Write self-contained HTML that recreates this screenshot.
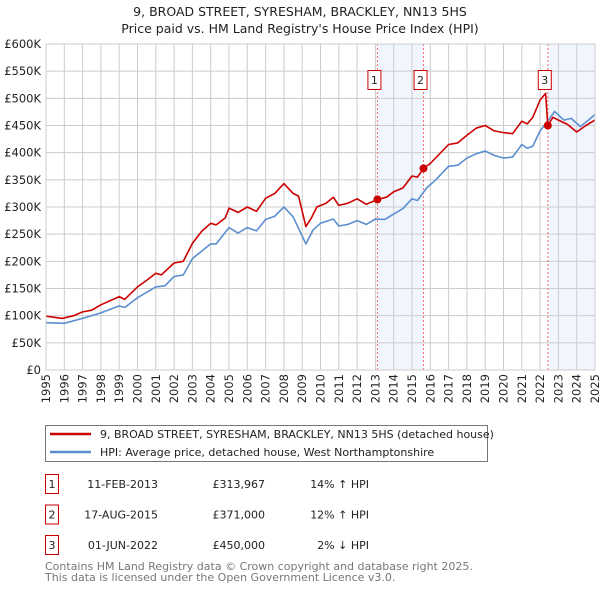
<!DOCTYPE html>
<html><head><meta charset="utf-8">
<style>
body{margin:0;background:#fff;font-family:"DejaVu Sans","Liberation Sans",sans-serif;}
svg text{font-family:"DejaVu Sans","Liberation Sans",sans-serif;}
</style></head>
<body>
<svg width="600" height="590" xmlns="http://www.w3.org/2000/svg">
<text x="300" y="16" text-anchor="middle" font-size="12.5" fill="#222">9, BROAD STREET, SYRESHAM, BRACKLEY, NN13 5HS</text>
<text x="300" y="33" text-anchor="middle" font-size="12.5" fill="#222">Price paid vs. HM Land Registry's House Price Index (HPI)</text>
<g id="plot"></g>
<g>
<rect x="45.5" y="425.5" width="442" height="36" fill="#fff" stroke="#777"/>
<line x1="50" y1="434" x2="91" y2="434" stroke="#cc0000" stroke-width="2.5"/>
<text x="100" y="438" font-size="11" fill="#222">9, BROAD STREET, SYRESHAM, BRACKLEY, NN13 5HS (detached house)</text>
<line x1="50" y1="452" x2="91" y2="452" stroke="#5b8fd0" stroke-width="2.5"/>
<text x="100" y="456" font-size="11" fill="#222">HPI: Average price, detached house, West Northamptonshire</text>
</g>
<g id="table" font-size="11" fill="#222"></g>
<text x="45" y="570" font-size="11" fill="#777">Contains HM Land Registry data © Crown copyright and database right 2025.</text>
<text x="45" y="581" font-size="11" fill="#777">This data is licensed under the Open Government Licence v3.0.</text>
</svg>
<script>
const yTicks=[0,50000,100000,150000,200000,250000,300000,350000,400000,450000,500000,550000,600000];
const yTickLabels=["£0","£50K","£100K","£150K","£200K","£250K","£300K","£350K","£400K","£450K","£500K","£550K","£600K"];
const xYears=[1995,1996,1997,1998,1999,2000,2001,2002,2003,2004,2005,2006,2007,2008,2009,2010,2011,2012,2013,2014,2015,2016,2017,2018,2019,2020,2021,2022,2023,2024,2025];
const redT=[1995,1995.9,1996.5,1997,1997.5,1998,1999,1999.3,2000,2000.5,2001,2001.3,2002,2002.5,2003,2003.5,2004,2004.3,2004.8,2005,2005.5,2006,2006.5,2007,2007.5,2008,2008.5,2008.8,2009.2,2009.5,2009.8,2010.3,2010.7,2011,2011.5,2012,2012.5,2013.11,2013.6,2014,2014.5,2015,2015.3,2015.63,2016,2017,2017.5,2018,2018.5,2019,2019.5,2020,2020.5,2021,2021.3,2021.6,2022,2022.3,2022.42,2022.7,2023,2023.5,2024,2024.5,2025];
const redV=[99000,95000,100000,107000,110000,120000,135000,130000,153000,165000,178000,175000,197000,200000,233000,255000,270000,267000,280000,298000,290000,300000,292000,316000,325000,343000,325000,320000,264000,280000,300000,307000,318000,303000,307000,315000,305000,313967,318000,328000,335000,357000,355000,371000,380000,415000,418000,432000,445000,450000,440000,437000,435000,458000,453000,465000,497000,509000,450000,465000,460000,452000,438000,450000,460000];
const blueT=[1995,1996,1997,1998,1999,1999.3,2000,2001,2001.5,2002,2002.5,2003,2004,2004.3,2005,2005.5,2006,2006.5,2007,2007.5,2008,2008.5,2009.2,2009.6,2010,2010.7,2011,2011.5,2012,2012.5,2013,2013.5,2014,2014.5,2015,2015.3,2015.8,2016.3,2017,2017.5,2018,2018.5,2019,2019.5,2020,2020.5,2021,2021.3,2021.6,2022,2022.5,2022.8,2023.3,2023.7,2024.2,2025];
const blueV=[87000,86000,95000,105000,118000,115000,133000,153000,155000,172000,175000,205000,232000,232000,262000,252000,262000,256000,277000,283000,300000,282000,232000,258000,270000,278000,265000,268000,275000,268000,278000,277000,287000,297000,315000,312000,335000,350000,375000,377000,390000,398000,403000,395000,390000,392000,415000,408000,412000,440000,462000,476000,460000,463000,448000,470000];
const saleLabels=["1","2","3"];
const saleT=[2013.11,2015.63,2022.42];
const saleV=[313967,371000,450000];
const saleDates=["11-FEB-2013","17-AUG-2015","01-JUN-2022"];
const salePrices=["£313,967","£371,000","£450,000"];
const saleHpi=["14% ↑ HPI","12% ↑ HPI","2% ↓ HPI"];

const NS="http://www.w3.org/2000/svg";
const L=46,R=595,T=44,B=370;
const x=t=>L+(t-1995)/30*(R-L);
const y=v=>B-v/600000*(B-T);
const plot=document.getElementById('plot');
function mk(tag,attrs,parent){const e=document.createElementNS(NS,tag);for(const k in attrs)e.setAttribute(k,attrs[k]);(parent||plot).appendChild(e);return e;}
const sh1=mk('rect',{x:x(saleT[0]),y:T,width:x(saleT[1])-x(saleT[0]),height:B-T,fill:'#eef3fc',opacity:0.8});


const sh2=mk('rect',{x:x(saleT[2]),y:T,width:R-x(saleT[2]),height:B-T,fill:'#eef3fc',opacity:0.8});


yTicks.forEach((v,i)=>{
 const g=mk('line',{x1:L,x2:R,y1:y(v),y2:y(v),stroke:'#ccc','stroke-width':1});
 
 
 const t=mk('text',{x:L-5,y:y(v)+4,'text-anchor':'end','font-size':11.5,fill:'#222'});
 t.textContent=yTickLabels[i];
 
 
});
xYears.forEach(yr=>{
 const g=mk('line',{x1:x(yr),x2:x(yr),y1:T,y2:B,stroke:'#ccc','stroke-width':1});
 
 
 const t=mk('text',{x:0,y:0,'text-anchor':'end','font-size':11.5,fill:'#222',transform:`translate(${x(yr)+4},374) rotate(-90)`});
 t.textContent=yr;
 
 
});
saleT.forEach((t,i)=>{
 const l=mk('line',{x1:x(t),x2:x(t),y1:T,y2:B,stroke:'#f07070','stroke-width':1,'stroke-dasharray':'2,2'});
 
 
});
function path(ts,vs,color,name){
 const d=ts.map((t,i)=>(i?'L':'M')+x(t).toFixed(1)+','+y(vs[i]).toFixed(1)).join('');
 const p=mk('path',{d:d,fill:'none',stroke:color,'stroke-width':1.6,'stroke-linejoin':'round'});
 
 
}
path(blueT,blueV,'#5b8fd0','hpi-line');
path(redT,redV,'#cc0000','property-price-line');
saleT.forEach((t,i)=>{
 const c=mk('circle',{cx:x(t),cy:y(saleV[i]),r:4,fill:'#cc0000'});
 
 
 const bx=mk('rect',{x:x(t)-9.5,y:70.5,width:13,height:19,fill:'#fff',stroke:'#cc0000','stroke-width':1});
 
 
 const tx=mk('text',{x:x(t)-3,y:84,'text-anchor':'middle','font-size':11,fill:'#222'});
 tx.textContent=saleLabels[i];
 
 
});
const border=mk('rect',{x:L,y:T,width:R-L,height:B-T,fill:'none',stroke:'#ccc'});


const tb=document.getElementById('table');
saleLabels.forEach((s,i)=>{
 const yy=487+i*30.5;
 const bx=mk('rect',{x:45.5,y:yy-12.5,width:13,height:19,fill:'#fff',stroke:'#cc0000'},tb);
 
 
 const cols=[[52,s,'middle','table-row-number'],[158,saleDates[i],'end','table-row-date'],[265,salePrices[i],'end','table-row-price'],[369,saleHpi[i],'end','table-row-hpi']];
 cols.forEach(c=>{
  const t=mk('text',{x:c[0],y:yy+1,'text-anchor':c[2]},tb);
  t.textContent=c[1];
  
  
 });
});
</script>
</body></html>
